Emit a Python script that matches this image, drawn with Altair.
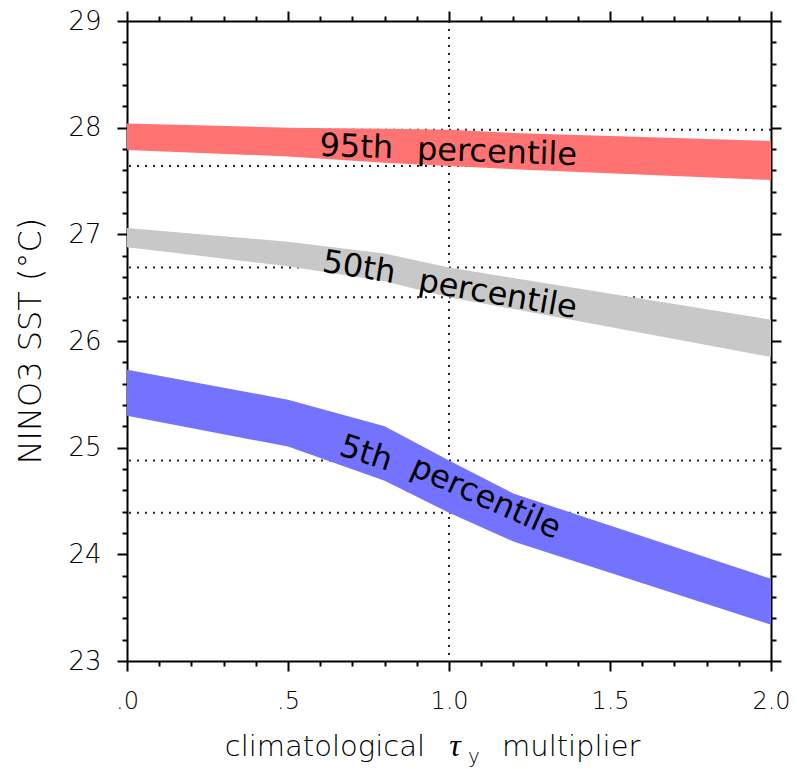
import altair as alt
import pandas as pd

# ---- data ----
multiplier = [0.0, 0.5, 0.8, 1.0, 1.2, 2.0]
p95_lo = [27.79, 27.73, 27.67, 27.64, 27.61, 27.51]
p95_hi = [28.04, 28.00, 27.99, 27.98, 27.95, 27.875]
p50_lo = [26.88, 26.70, 26.56, 26.41, 26.30, 25.85]
p50_hi = [27.06, 26.93, 26.82, 26.69, 26.59, 26.20]
p5_lo = [25.30, 25.01, 24.69, 24.39, 24.12, 23.34]
p5_hi = [25.73, 25.45, 25.20, 24.88, 24.57, 23.77]

series = ["95th", "50th", "5th"]
colors = ["#ff7373", "#c8c8c8", "#7373ff"]

# dotted reference lines: band edges at the control value (multiplier 1.0)
ref_levels = [27.98, 27.64, 26.69, 26.41, 24.88, 24.39]
ref_multiplier = [1.0]

label_words = ["95th", "percentile", "50th", "percentile", "5th", "percentile"]
label_x = [0.711, 1.148, 0.716, 1.146, 0.733, 1.102]
label_y = [27.725, 27.675, 26.597, 26.344, 24.858, 24.446]
label_angle = [2, 2, 9, 10, 18, 24]

x_ticks = [round(i * 0.1, 1) for i in range(21)]
y_ticks = [round(23 + i * 0.2, 1) for i in range(31)]

# ---- tables ----
rows = []
for s, lo, hi in zip(series, [p95_lo, p50_lo, p5_lo], [p95_hi, p50_hi, p5_hi]):
    for x, a, b in zip(multiplier, lo, hi):
        rows.append({"series": s, "x": x, "lo": a, "hi": b})
bands = pd.DataFrame(rows)
refs = pd.DataFrame({"y": ref_levels})
vref = pd.DataFrame({"x": ref_multiplier})
labels = pd.DataFrame({"text": label_words, "x": label_x, "y": label_y, "angle": label_angle})
one = pd.DataFrame({"a": [0]})

FONT = "DejaVu Sans"
xs = alt.Scale(domain=[0, 2], nice=False, zero=False)
ys = alt.Scale(domain=[23, 29], nice=False, zero=False)

MAJX = "abs(datum.value*2 - round(datum.value*2)) < 0.01"
MAJY = "abs(datum.value - round(datum.value)) < 0.01"

common = dict(grid=False, domainColor="black", domainWidth=2, tickColor="black",
              tickWidth=2, labelOverlap=False, labelFlush=False, title=None)

bottom_axis = alt.Axis(orient="bottom", values=x_ticks,
                       tickSize={"condition": {"test": MAJX, "value": 10}, "value": 5},
                       labelExpr=MAJX + " ? (datum.value < 1 ? replace(format(datum.value, '.1f'), '0.', '.') : format(datum.value, '.1f')) : ''",
                       labelFont=FONT, labelFontSize=24, labelFontWeight=300,
                       labelColor="black", labelPadding=18,
                       **common)
top_axis = alt.Axis(orient="top", values=x_ticks, labels=False,
                    tickSize={"condition": {"test": MAJX, "value": 10}, "value": 5},
                    **common)
left_axis = alt.Axis(orient="left", values=y_ticks,
                     tickSize={"condition": {"test": MAJY, "value": 10}, "value": 5},
                     labelExpr=MAJY + " ? format(datum.value, 'd') : ''",
                     labelFont=FONT, labelFontSize=26, labelFontWeight=300,
                     labelColor="black", labelPadding=16,
                     **common)
right_axis = alt.Axis(orient="right", values=y_ticks, labels=False,
                      tickSize={"condition": {"test": MAJY, "value": 10}, "value": 5},
                      **common)

hlines = alt.Chart(refs).mark_rule(color="#222", strokeWidth=2, strokeDash=[2, 6]).encode(
    y=alt.Y("y:Q", scale=ys, axis=right_axis)
)
vline = alt.Chart(vref).mark_rule(color="#222", strokeWidth=2, strokeDash=[2, 6]).encode(
    x=alt.X("x:Q", scale=xs, axis=top_axis)
)
band_layer = alt.Chart(bands).mark_area(opacity=1, interpolate="linear").encode(
    x=alt.X("x:Q", scale=xs, axis=bottom_axis),
    y=alt.Y("lo:Q", scale=ys, axis=left_axis),
    y2="hi:Q",
    color=alt.Color("series:N", scale=alt.Scale(domain=series, range=colors), legend=None),
)
label_layer = alt.Chart(labels).mark_text(font=FONT, fontSize=32, align="center",
                                          baseline="alphabetic", color="black").encode(
    x=alt.X("x:Q", scale=xs, axis=None),
    y=alt.Y("y:Q", scale=ys, axis=None),
    text="text:N",
    angle=alt.Angle("angle:Q", scale=None),
)


def title_piece(txt, px, py, size, align, angle=0, style="normal", weight=300, font=FONT):
    return alt.Chart(one).mark_text(text=txt, font=font, fontSize=size, align=align,
                                    baseline="alphabetic", angle=angle, fontStyle=style,
                                    fontWeight=weight, color="black").encode(
        x=alt.value(px), y=alt.value(py))


titles = [
    title_piece("climatological", 298, 735, 29, "right"),
    title_piece("\u03c4", 328, 735, 32, "center", style="italic", weight=400,
                font="Liberation Serif"),
    title_piece("y", 341, 742, 20, "left"),
    title_piece("multiplier", 375, 735, 29, "left"),
    title_piece("NINO3 SST (\u00b0C)", -86, 320, 32, "center", angle=270),
]

chart = alt.layer(hlines, vline, band_layer, label_layer, *titles).resolve_axis(
    x="independent", y="independent"
).properties(
    width=644, height=640,
    autosize=alt.AutoSizeParams(type="none"),
    padding={"left": 119, "top": 13, "right": 18, "bottom": 106},
).configure_view(stroke=None)

chart.save("out.html", embed_options={"renderer": "svg", "actions": False})
